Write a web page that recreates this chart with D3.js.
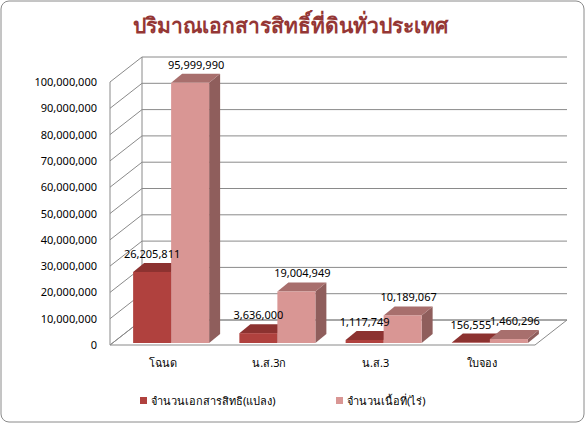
<!DOCTYPE html><html><head><meta charset="utf-8"><script src="https://d3js.org/d3.v7.min.js"></script>
<style>body{margin:0;background:#fff}</style></head><body><script>
const categories=["โฉนด","น.ส.3ก","น.ส.3","ใบจอง"];
const plots=[26205811,3636000,1117749,156555];
const areas=[95999990,19004949,10189067,1460296];
const seriesNames=["จำนวนเอกสารสิทธิ(แปลง)","จำนวนเนื้อที่(ไร่)"];
const ticks=d3.range(0,100000001,10000000);
const W=586,H=424,f="'Noto Sans','DejaVu Sans',sans-serif";
const svg=d3.select("body").append("svg").attr("width",W).attr("height",H);
svg.append("rect").attr("x",1).attr("y",1).attr("width",W-3).attr("height",H-3).attr("rx",8).attr("fill","#fff").attr("stroke","#8a8a8a");
svg.append("text").attr("x",290).attr("y",33).attr("text-anchor","middle").attr("font-family",f).attr("font-weight","bold").attr("font-size",21).attr("fill","#953735").text("ปริมาณเอกสารสิทธิ์ที่ดินทั่วประเทศ");
const DX=32,DY=25,x0=110,x1=535;
const yF=d3.scaleLinear().domain([0,100000000]).range([345,82]);
const yB=v=>yF(v)-DY;
const g=svg.append("g");
// walls
g.append("path").attr("d",`M${x0},${yF(0)}L${x0+DX},${yB(0)}L${x1+DX},${yB(0)}L${x1},${yF(0)}Z`).attr("fill","#fff").attr("stroke","#8a8a8a");
g.append("line").attr("x1",x0+DX).attr("x2",x0+DX).attr("y1",yB(0)).attr("y2",yB(100000000)).attr("stroke","#8a8a8a");
g.append("line").attr("x1",x0).attr("x2",x0).attr("y1",yF(0)).attr("y2",yF(100000000)).attr("stroke","#8a8a8a");
ticks.forEach(t=>{
 g.append("path").attr("d",`M${x0},${yF(t)}L${x0+DX},${yB(t)}L${x1+DX},${yB(t)}`).attr("fill","none").attr("stroke","#8a8a8a");
 g.append("text").attr("x",x0-13).attr("y",yF(t)+4).attr("text-anchor","end").attr("font-family",f).attr("font-size",11).text(d3.format(",")(t));
});
const xb=d3.scaleBand().domain(categories).range([x0,x1]);
const yBar=d3.scaleLinear().domain([0,100000000]).range([343,72]);
const bw=38,bdx=11,bdy=9;
const cols=[{f:"#B0413E",t:"#8C3230",s:"#7A2C2A"},{f:"#D99694",t:"#A86F6D",s:"#8F5E5C"}];
function bar(x,v,c){
 const yt=yBar(v),yb=343;
 g.append("path").attr("d",`M${x+bw},${yb}L${x+bw+bdx},${yb-bdy}L${x+bw+bdx},${yt-bdy}L${x+bw},${yt}Z`).attr("fill",c.s);
 g.append("path").attr("d",`M${x},${yt}L${x+bdx},${yt-bdy}L${x+bw+bdx},${yt-bdy}L${x+bw},${yt}Z`).attr("fill",c.t);
 g.append("rect").attr("x",x).attr("y",yt).attr("width",bw).attr("height",yb-yt).attr("fill",c.f);
}
categories.forEach((c,i)=>{
 const xc=xb(c)+xb.bandwidth()/2+8;
 bar(xc-bw,plots[i],cols[0]);bar(xc,areas[i],cols[1]);
 [[plots[i],xc-bw/2],[areas[i],xc+bw/2+6]].forEach(([v,x])=>
  g.append("text").attr("x",x).attr("y",yBar(v)-14).attr("text-anchor","middle").attr("font-family",f).attr("font-size",11).text(d3.format(",")(v)));
 g.append("text").attr("x",xc-8).attr("y",367).attr("text-anchor","middle").attr("font-family",f).attr("font-size",11).text(c);
});
[[140,0],[336,1]].forEach(([x,i])=>{
 svg.append("rect").attr("x",x).attr("y",397).attr("width",7).attr("height",7).attr("fill",cols[i].f);
 svg.append("text").attr("x",x+11).attr("y",405).attr("font-family",f).attr("font-size",11).text(seriesNames[i]);
});
</script></body></html>
